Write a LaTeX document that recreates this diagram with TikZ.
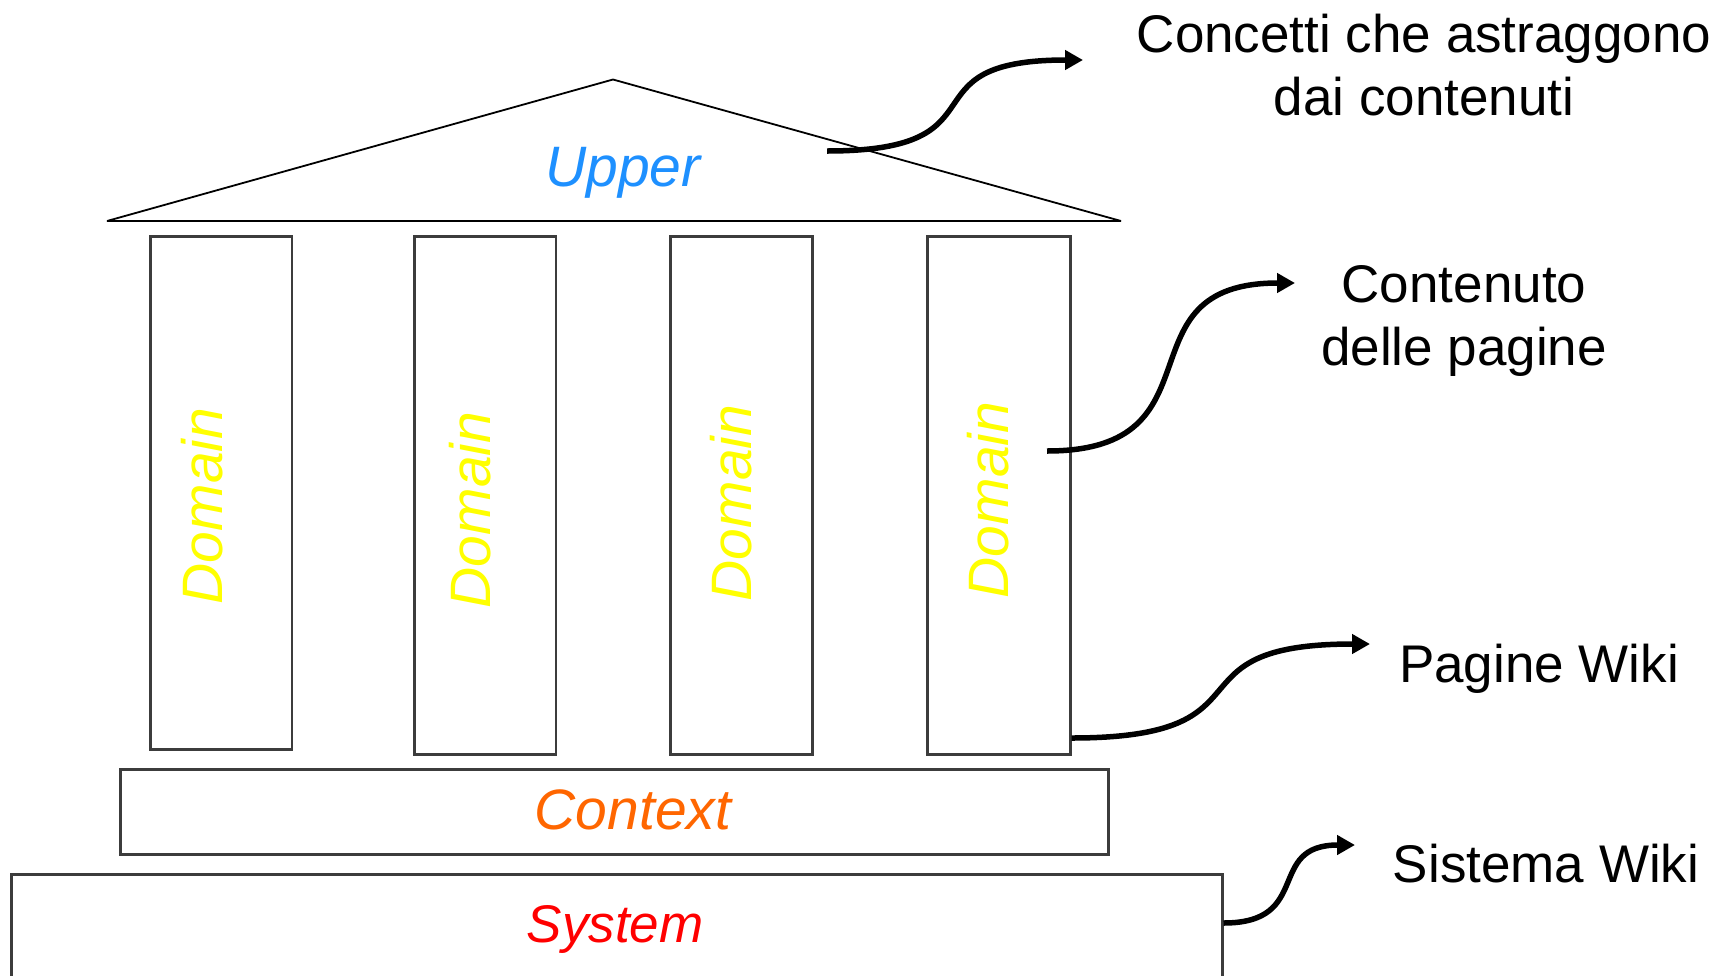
\documentclass[tikz,border=0pt]{standalone}
\usepackage{fontspec}
\setmainfont{Liberation Sans}
\usetikzlibrary{arrows.meta}
\definecolor{upperblue}{RGB}{30,144,255}
\definecolor{ctxorange}{RGB}{255,102,0}
\definecolor{sysred}{RGB}{255,0,0}
\definecolor{domyellow}{RGB}{255,255,0}
\definecolor{boxgray}{RGB}{60,60,60}
\begin{document}
\begin{tikzpicture}[x=1pt,y=-1pt,
  box/.style={draw=boxgray,line width=2.5pt,inner sep=0pt,anchor=north west},
  lbl/.style={font=\fontsize{57}{68}\selectfont\itshape,inner sep=0pt},
  domlbl/.style={lbl,text=domyellow,rotate=90},
  note/.style={font=\fontsize{53}{63}\selectfont,anchor=base,inner sep=0pt},
  link/.style={line width=5.5pt,-{Triangle[length=18pt,width=19pt]}},
  roofline/.style={draw=black,line width=1.8pt,line join=bevel}
]
\useasboundingbox (0,0) rectangle (1732,975);
\fill[white] (0,0) rectangle (1732,975);

% roof
\coordinate (roofL) at (107,221);
\coordinate (roofT) at (613,79.5);
\coordinate (roofR) at (1121,221);
\draw[roofline] (roofL) -- (roofT) -- (roofR) -- cycle;
\node[lbl,text=upperblue] (upper) at (623,173) {Upper};

% columns
\node[box,minimum width=141.5pt,minimum height=513pt] (col1) at (149,235) {};
\node[box,minimum width=141.5pt,minimum height=518pt] (col2) at (413,235) {};
\node[box,minimum width=142pt,minimum height=518pt] (col3) at (669,235) {};
\node[box,minimum width=143pt,minimum height=518pt] (col4) at (926,235) {};
\node[domlbl] (d1) at (202,506) {Domain};
\node[domlbl] (d2) at (470,510) {Domain};
\node[domlbl] (d3) at (731,503) {Domain};
\node[domlbl] (d4) at (988,500) {Domain};

% context and system
\node[box,minimum width=988pt,minimum height=85pt] (ctx) at (119,768) {};
\node[lbl,text=ctxorange] (ctxt) at (633,810) {Context};
\node[box,minimum width=1211pt,minimum height=120pt] (sys) at (10,873) {};
\node[lbl,text=sysred,font=\fontsize{53}{63}\selectfont\itshape] (syst) at (615,929) {System};

% notes
\node[note] (t1a) at (1424,52) {Concetti che astraggono};
\node[note] (t1b) at (1424,115) {dai contenuti};
\node[note] (t2a) at (1464,302) {Contenuto};
\node[note] (t2b) at (1464,365) {delle pagine};
\node[note] (t3) at (1539,682) {Pagine Wiki};
\node[note] (t4) at (1546,882) {Sistema Wiki};

% connectors
\coordinate (a1s) at (827,151);
\coordinate (a1e) at (1083,60);
\coordinate (a2s) at (1047,451);
\coordinate (a2e) at (1295,283);
\coordinate (a3s) at (col4.east |- 0,738);
\coordinate (a3e) at (1370,644);
\coordinate (a4s) at (sys.east |- 0,923);
\coordinate (a4e) at (1355,845);
\draw[link] (a1s) .. controls +(185,0) and +(-185,0) .. (a1e);
\draw[link] (a2s) .. controls +(180,0) and +(-180,0) .. (a2e);
\draw[link] (a3s) .. controls +(210,0) and +(-210,0) .. (a3e);
\draw[link] (a4s) .. controls +(90,0) and +(-90,0) .. (a4e);
\end{tikzpicture}
\end{document}
